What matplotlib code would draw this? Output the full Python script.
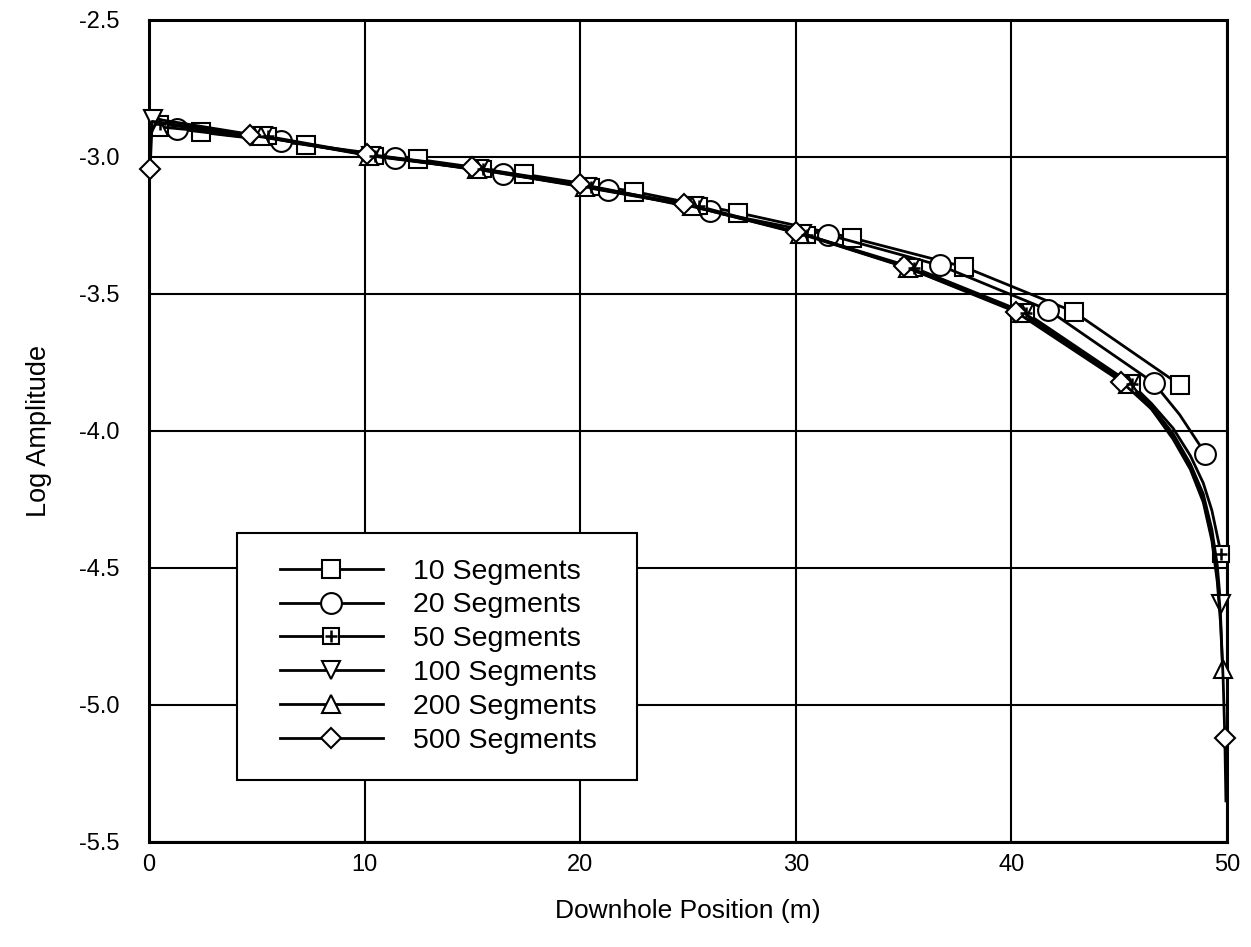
import matplotlib
matplotlib.use("Agg")
import matplotlib.pyplot as plt
from matplotlib.lines import Line2D
from matplotlib.legend_handler import HandlerTuple, HandlerLine2D

plt.rcParams['font.family'] = ['Liberation Sans', 'DejaVu Sans']

# 10 segments (squares)
x10 = [2.4, 7.3, 12.5, 17.4, 22.5, 27.3, 32.6, 37.8, 42.9, 47.8]
y10 = [-2.910, -2.955, -3.009, -3.063, -3.126, -3.203, -3.295, -3.401, -3.565, -3.831]

# 20 segments (circles), one unmarked point near the end
x20 = [1.3, 6.1, 11.4, 16.4, 21.3, 26.0, 31.5, 36.7, 41.7, 46.6, 47.8, 49.0]
y20 = [-2.898, -2.942, -3.004, -3.061, -3.119, -3.198, -3.284, -3.396, -3.558, -3.824, -3.94, -4.083]
mark20 = [0, 1, 2, 3, 4, 5, 6, 7, 8, 9, 11]

# 50 segments (crossed squares)
x50 = [0.5, 5.5, 10.5, 15.5, 20.5, 25.5, 30.5, 35.5, 40.7, 45.6, 46.5, 47.5, 48.3, 48.9, 49.3, 49.73]
y50 = [-2.88, -2.925, -2.995, -3.045, -3.11, -3.18, -3.285, -3.405, -3.57, -3.83,
       -3.90, -3.99, -4.09, -4.19, -4.29, -4.45]
mark50 = [0, 1, 2, 3, 4, 5, 6, 7, 8, 9, 15]

# 100 segments (down triangles)
x100 = [0.2, 5.3, 10.3, 15.3, 20.3, 25.3, 30.3, 35.3, 40.6, 45.5, 46.5, 47.5, 48.3, 48.9, 49.3, 49.55, 49.7]
y100 = [-2.86, -2.925, -2.995, -3.045, -3.11, -3.18, -3.28, -3.405, -3.57, -3.83,
        -3.91, -4.01, -4.12, -4.23, -4.36, -4.49, -4.63]
mark100 = [0, 1, 2, 3, 4, 5, 6, 7, 8, 9, 16]

# 200 segments (up triangles)
x200 = [0.45, 5.2, 10.2, 15.2, 20.2, 25.2, 30.2, 35.2, 40.5, 45.4, 46.5, 47.5, 48.3, 48.9, 49.3, 49.55, 49.7, 49.8]
y200 = [-2.89, -2.925, -2.995, -3.045, -3.11, -3.18, -3.28, -3.405, -3.57, -3.83,
        -3.92, -4.02, -4.13, -4.25, -4.39, -4.53, -4.67, -4.87]
mark200 = [0, 1, 2, 3, 4, 5, 6, 7, 8, 9, 17]

# 500 segments (diamonds)
x500 = [0.05, 0.15, 4.7, 10.1, 15.0, 20.0, 24.8, 30.0, 35.0, 40.2, 45.1,
        46.5, 47.5, 48.3, 48.9, 49.3, 49.55, 49.7, 49.82, 49.9, 49.95]
y500 = [-3.045, -2.87, -2.92, -2.99, -3.038, -3.099, -3.173, -3.273, -3.399, -3.565, -3.82,
        -3.92, -4.03, -4.14, -4.26, -4.40, -4.55, -4.70, -4.90, -5.12, -5.35]
mark500 = [0, 2, 3, 4, 5, 6, 7, 8, 9, 10, 19]

labels = ['10 Segments', '20 Segments', '50 Segments', '100 Segments',
          '200 Segments', '500 Segments']

fig = plt.figure(figsize=(12.51, 9.47), dpi=100)
ax = fig.add_axes([0.1191, 0.1109, 0.8617, 0.868])

kw = dict(color='black', lw=2.0, mfc='white', mec='black', mew=1.5, clip_on=False, zorder=3)
l10, = ax.plot(x10, y10, marker='s', ms=13, **kw)
l20, = ax.plot(x20, y20, marker='o', ms=15, markevery=mark20, **kw)
l50, = ax.plot(x50, y50, marker='s', ms=11, markevery=mark50, **kw)
p50, = ax.plot([x50[i] for i in mark50], [y50[i] for i in mark50], ls='none',
               marker='+', ms=9, color='black', mew=1.8, clip_on=False, zorder=4)
l100, = ax.plot(x100, y100, marker='v', ms=13, markevery=mark100, **kw)
l200, = ax.plot(x200, y200, marker='^', ms=13, markevery=mark200, **kw)
l500, = ax.plot(x500, y500, marker='D', ms=10, markevery=mark500, **kw)

ax.set_xlim(0, 50)
ax.set_ylim(-5.5, -2.5)
ax.set_xticks([0, 10, 20, 30, 40, 50])
ax.set_yticks([-5.5, -5.0, -4.5, -4.0, -3.5, -3.0, -2.5])
ax.set_yticklabels(['-5.5', '-5.0', '-4.5', '-4.0', '-3.5', '-3.0', '-2.5'])
ax.grid(True, color='black', lw=1.5)
ax.set_axisbelow(True)
for s in ax.spines.values():
    s.set_linewidth(2.2)
ax.tick_params(length=0, labelsize=17)
ax.tick_params(axis='x', pad=9)
ax.tick_params(axis='y', pad=21)
ax.set_xlabel('Downhole Position (m)', fontsize=19, labelpad=16)
ax.set_ylabel('Log Amplitude', fontsize=19.5, labelpad=20)

hmap = {Line2D: HandlerLine2D(xpad=0.6),
        tuple: HandlerTuple(ndivide=1, pad=0, xpad=0.6)}
leg = ax.legend([l10, l20, (l50, p50), l100, l200, l500], labels,
                handler_map=hmap, loc='lower left',
                bbox_to_anchor=(0.0816, 0.0754, 0.371, 0.30), mode='expand',
                borderaxespad=0, fontsize=20.5, handlelength=4.23, handletextpad=1.05,
                labelspacing=0.28, borderpad=0.9, fancybox=False, framealpha=1,
                edgecolor='black', markerscale=1.0)
leg.get_frame().set_linewidth(1.5)
leg.set_zorder(5)

fig.savefig('out.png', dpi=100)
